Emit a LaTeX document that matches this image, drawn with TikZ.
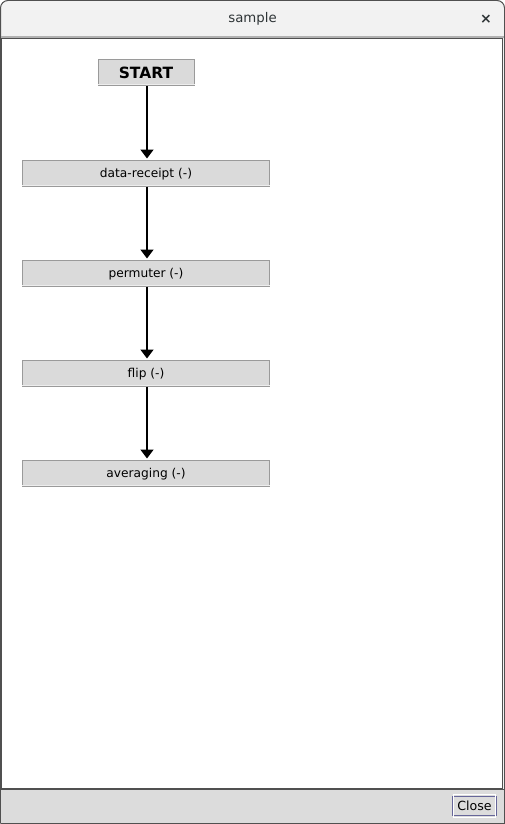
\documentclass[tikz,border=0pt]{standalone}
\usepackage{fontspec}
\setmainfont{DejaVu Sans}
\usetikzlibrary{arrows.meta}
\definecolor{titlebg}{HTML}{F2F2F2}
\definecolor{panelbg}{HTML}{DCDCDC}
\definecolor{boxfill}{HTML}{DADADA}
\definecolor{boxedge}{HTML}{9A9A9A}
\definecolor{frameedge}{HTML}{505050}
\definecolor{titletext}{HTML}{2E3436}
\tikzset{
  stepbox/.style={draw=boxedge, fill=boxfill, line width=1pt, minimum height=26pt,
    inner sep=0pt, text depth=0pt, font=\fontsize{12.2}{14}\selectfont},
  startbox/.style={stepbox, minimum width=96pt, font=\fontsize{15.5}{17}\selectfont\bfseries},
  wide/.style={minimum width=247pt},
  flow/.style={-{Triangle[length=9pt,width=13pt]}, line width=1.6pt, black, shorten >=1pt},
}
\begin{document}
\begin{tikzpicture}[x=1pt,y=-1pt]
\useasboundingbox (0,0) rectangle (505,824);
% window frame and title bar
\fill[white] (0,0) rectangle (505,824);
\fill[titlebg, rounded corners=7.5pt] (0.5,830) -- (0.5,0.5) -- (504.5,0.5) -- (504.5,830) -- cycle;
\draw[frameedge, line width=1pt, rounded corners=7.5pt]
  (0.5,823.5) -- (0.5,0.5) -- (504.5,0.5) -- (504.5,823.5);
\draw[frameedge, line width=1pt] (0.5,823.5) -- (504.5,823.5);
\node[font=\fontsize{13.3}{15}\selectfont, text=titletext] (title) at (252.5,19) {sample};
\node[font=\fontsize{14}{15}\selectfont\bfseries, text=titletext] (closex) at (486,19) {×};
% content area
\fill[gray!60] (1,36.5) rectangle (504,38);
\draw[frameedge, fill=white, line width=1pt] (1.5,38.5) rectangle (502.5,788.5);
% bottom button panel
\fill[panelbg] (1,790) rectangle (504,823);
\draw[frameedge, line width=1pt] (0.5,789.5) -- (504.5,789.5);
\node[draw=gray!80!blue, line width=1pt, fill=panelbg, minimum width=44pt, minimum height=19pt,
  inner sep=0pt, font=\fontsize{12.6}{14}\selectfont] (closebtn) at (474.5,806) {Close};
\draw[white, line width=0.6pt] ([shift={(1.5,1.5)}]closebtn.south west) rectangle ([shift={(-1.5,-1.5)}]closebtn.north east);
% flow chart
\node[startbox] (start) at (146,73) {START};
\node[stepbox, wide] (receipt) at (146,173) {data-receipt (-)};
\node[stepbox, wide] (permuter) at (146,273) {permuter (-)};
\node[stepbox, wide] (flip) at (146,373) {flip (-)};
\node[stepbox, wide] (averaging) at (146,473) {averaging (-)};
\foreach \n in {start,receipt,permuter,flip,averaging}
  \draw[white!93!black, line width=1pt] ([yshift=1.5pt]\n.south west) -- ([yshift=1.5pt]\n.south east);
\draw[flow] (start.south -| 147,0) -- (receipt.north -| 147,0);
\draw[flow] (receipt.south -| 147,0) -- (permuter.north -| 147,0);
\draw[flow] (permuter.south -| 147,0) -- (flip.north -| 147,0);
\draw[flow] (flip.south -| 147,0) -- (averaging.north -| 147,0);
\end{tikzpicture}
\end{document}
